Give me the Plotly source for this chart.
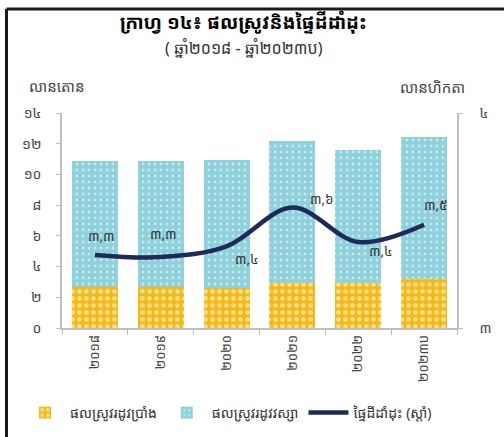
import plotly.graph_objects as go

years = ['២០១៨', '២០១៩', '២០២០', '២០២១', '២០២២', '២០២៣ប']
dry_season = [2.69, 2.69, 2.62, 2.91, 2.91, 3.18]      # million tonnes
wet_season = [8.18, 8.16, 8.30, 9.28, 8.71, 9.25]      # million tonnes
area = [3.34, 3.33, 3.38, 3.56, 3.40, 3.48]            # million hectares (right axis)
area_labels = ['៣,៣', '៣,៣', '៣,៤', '៣,៦', '៣,៤', '៣,៥']
left_ticks = [0, 2, 4, 6, 8, 10, 12, 14]
left_ticktext = ['០', '២', '៤', '៦', '៨', '១០', '១២', '១៤']
right_ticks = [3, 4]
right_ticktext = ['៣', '៤']

W, H = 504, 437
ml, mr, mt, mb = 62, 47, 113, 109
FONT = 'Noto Sans Khmer, Khmer OS, Noto Sans, DejaVu Sans, sans-serif'


def px(x):
    return (x - ml) / (W - ml - mr)


def py(y):
    return (H - mb - y) / (H - mt - mb)


fig = go.Figure()
fig.add_trace(go.Bar(
    x=years, y=dry_season, name='ផលស្រូវរដូវប្រាំង',
    marker=dict(color='#F5B914', line=dict(width=0),
                pattern=dict(shape='.', fgcolor='white', bgcolor='#F5B914',
                             size=7, solidity=0.4, fillmode='overlay')),
))
fig.add_trace(go.Bar(
    x=years, y=wet_season, name='ផលស្រូវរដូវវស្សា',
    marker=dict(color='#8ED0DB', line=dict(width=0),
                pattern=dict(shape='.', fgcolor='white', bgcolor='#8ED0DB',
                             size=6, solidity=0.18, fillmode='overlay')),
))
fig.add_trace(go.Scatter(
    x=years, y=area, yaxis='y2', name='ផ្ទៃដីដាំដុះ (ស្តាំ)',
    mode='lines', line=dict(color='#1F2A5A', width=4.5, shape='spline', smoothing=1.0),
))

# value labels for the line
offsets = [(7, 19), (3, 23), (20, -13), (30, 9), (23, -9), (12, 20)]
for i, (yr, v, t) in enumerate(zip(years, area, area_labels)):
    fig.add_annotation(x=yr, y=v, xref='x', yref='y2', text=t, showarrow=False,
                       xshift=offsets[i][0], yshift=offsets[i][1],
                       font=dict(size=13.5, color='#333333'))


def note(x, y, text, size, color):
    fig.add_annotation(x=px(x), y=py(y), xref='paper', yref='paper', showarrow=False,
                       xanchor='center', yanchor='middle', text=text,
                       font=dict(size=size, color=color))


note(243, 22, '<b>ក្រាហ្វ ១៤៖ ផលស្រូវនិងផ្ទៃដីដាំដុះ</b>', 19, 'black')
note(244, 48, '( ឆ្នាំ២០១៨ - ឆ្នាំ២០២៣ប)', 16, '#333333')
note(56, 86, 'លានតោន', 15, '#444444')
note(432, 87, 'លានហិកតា', 15, '#444444')

# frame lines (top and left)
fig.add_shape(type='line', xref='paper', yref='paper', x0=px(6.5), x1=px(504), y0=py(9), y1=py(9),
              line=dict(color='#1a1a1a', width=3))
fig.add_shape(type='line', xref='paper', yref='paper', x0=px(6.5), x1=px(6.5), y0=py(9), y1=py(437),
              line=dict(color='#1a1a1a', width=3))

fig.update_layout(
    width=W, height=H,
    margin=dict(l=ml, r=mr, t=mt, b=mb, autoexpand=False),
    barmode='stack', bargap=0.3,
    plot_bgcolor='white', paper_bgcolor='white',
    font=dict(family=FONT, size=13, color='#444444'),
    showlegend=True,
    legend=dict(orientation='h', x=px(20), y=py(413), xanchor='left', yanchor='middle',
                traceorder='normal', font=dict(size=14, color='#333333'),
                itemwidth=40, tracegroupgap=0),
    xaxis=dict(tickangle=-90, showgrid=False, showline=True, linecolor='#BFBFBF', linewidth=1.5,
               ticks='outside', tickcolor='#BFBFBF', ticklen=5, tickson='boundaries',
               tickfont=dict(size=13, color='#444444')),
    yaxis=dict(range=[0, 14], tickvals=left_ticks, ticktext=left_ticktext, showgrid=False,
               showline=True, linecolor='#BFBFBF', linewidth=1.5, ticks='outside',
               tickcolor='#BFBFBF', ticklen=4, zeroline=False, ticklabelstandoff=12,
               tickfont=dict(size=14)),
    yaxis2=dict(range=[3, 4], tickvals=right_ticks, ticktext=right_ticktext, overlaying='y',
                side='right', showgrid=False, showline=True, linecolor='#BFBFBF', linewidth=1.5,
                ticks='outside', tickcolor='#BFBFBF', ticklen=4, zeroline=False,
                ticklabelstandoff=14, tickfont=dict(size=14)),
)

fig.write_html('out.html', config={'displayModeBar': False},
               post_script="document.body.style.margin='0';")
